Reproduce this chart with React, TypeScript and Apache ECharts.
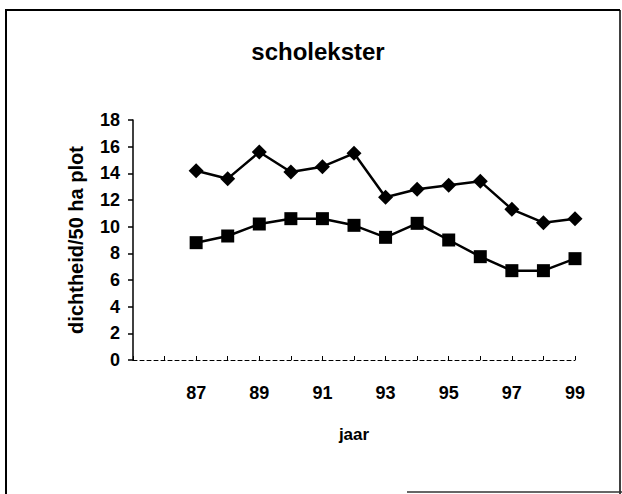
import React, { useEffect, useRef } from "react";
import * as echarts from "echarts";

const years = [87, 88, 89, 90, 91, 92, 93, 94, 95, 96, 97, 98, 99];
const seriesDiamond = [14.2, 13.6, 15.6, 14.1, 14.5, 15.5, 12.2, 12.8, 13.1, 13.4, 11.3, 10.3, 10.6];
const seriesSquare = [8.8, 9.3, 10.2, 10.6, 10.6, 10.1, 9.2, 10.25, 9.0, 7.75, 6.7, 6.7, 7.6];
const xLabelYears = [87, 89, 91, 93, 95, 97, 99];

const FONT = "Liberation Sans, Arial, Helvetica, sans-serif";

export default function App() {
  const ref = useRef<HTMLDivElement>(null);
  useEffect(() => {
    if (!ref.current) return;
    const chart = echarts.init(ref.current, undefined, { renderer: "svg" });
    chart.setOption({
      animation: false,
      backgroundColor: "#ffffff",
      title: {
        text: "scholekster",
        left: 313,
        top: 34,
        textAlign: "center",
        textStyle: { fontFamily: FONT, fontWeight: "bold", fontSize: 24, color: "#000" },
      },
      grid: { left: 133, top: 120, width: 442, height: 240 },
      xAxis: {
        type: "value",
        min: 85,
        max: 99,
        interval: 1,
        name: "jaar",
        nameLocation: "middle",
        nameGap: 66,
        nameTextStyle: { fontFamily: FONT, fontWeight: "bold", fontSize: 17, color: "#000" },
        axisLine: { lineStyle: { color: "#000", width: 1, type: [4, 3] } },
        axisTick: { show: true, length: 4, inside: true, lineStyle: { color: "#000" } },
        splitLine: { show: false },
        axisLabel: {
          margin: 24,
          fontFamily: FONT,
          fontWeight: "bold",
          fontSize: 18,
          color: "#000",
          formatter: (v: number) => (xLabelYears.includes(v) ? String(v) : ""),
        },
      },
      yAxis: {
        type: "value",
        min: 0,
        max: 18,
        interval: 2,
        name: "dichtheid/50 ha plot",
        nameLocation: "middle",
        nameGap: 47,
        nameTextStyle: { fontFamily: FONT, fontWeight: "bold", fontSize: 20, color: "#000" },
        axisLine: { show: true, lineStyle: { color: "#000", width: 1.5 } },
        axisTick: { show: true, length: 5, lineStyle: { color: "#000", width: 1.5 } },
        splitLine: { show: false },
        axisLabel: {
          margin: 13,
          fontFamily: FONT,
          fontWeight: "bold",
          fontSize: 18,
          color: "#000",
        },
      },
      series: [
        {
          type: "line",
          data: years.map((y, i) => [y, seriesDiamond[i]]),
          symbol: "diamond",
          symbolSize: 15,
          lineStyle: { color: "#000", width: 2.5 },
          itemStyle: { color: "#000" },
        },
        {
          type: "line",
          data: years.map((y, i) => [y, seriesSquare[i]]),
          symbol: "rect",
          symbolSize: 13,
          lineStyle: { color: "#000", width: 2.5 },
          itemStyle: { color: "#000" },
        },
      ],
      graphic: [
        { type: "line", shape: { x1: 6, y1: 10, x2: 6, y2: 494 }, style: { stroke: "#000", lineWidth: 2 } },
        { type: "line", shape: { x1: 5, y1: 10, x2: 620, y2: 10 }, style: { stroke: "#000", lineWidth: 2 } },
        { type: "line", shape: { x1: 620, y1: 10, x2: 620, y2: 494 }, style: { stroke: "#000", lineWidth: 1.5 } },
        { type: "line", shape: { x1: 407, y1: 492, x2: 622, y2: 492 }, style: { stroke: "#333", lineWidth: 1.5 } },
      ],
    });
    return () => chart.dispose();
  }, []);
  return (
    <div
      ref={ref}
      style={{ position: "fixed", left: 0, top: 0, width: 622, height: 494 }}
    />
  );
}
